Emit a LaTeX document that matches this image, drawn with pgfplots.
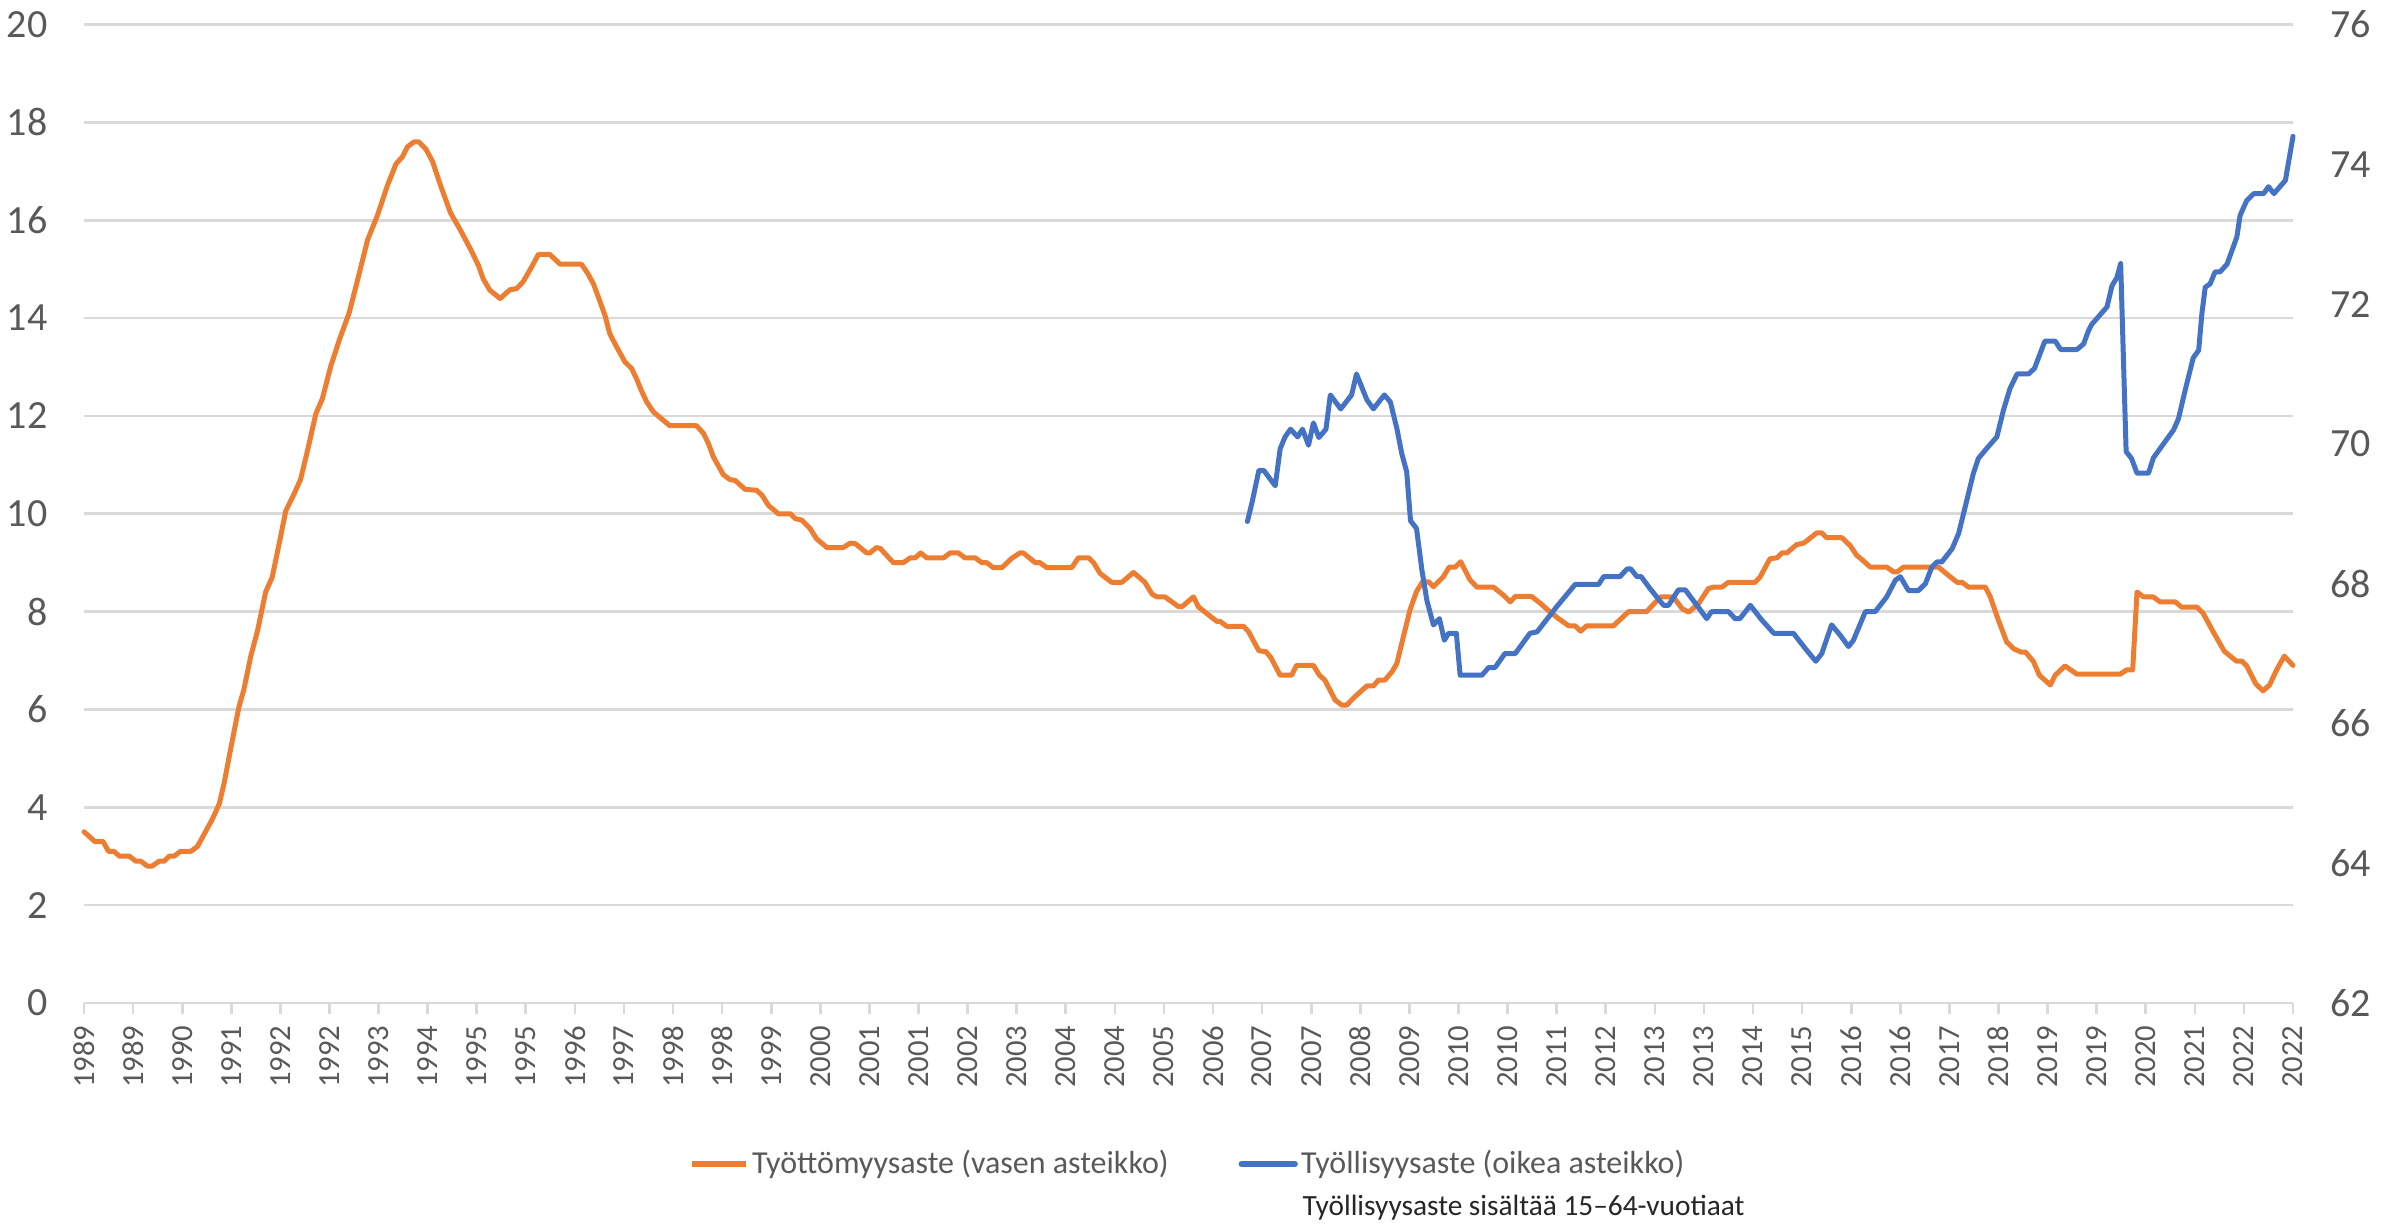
\documentclass[border=0pt]{standalone}
\usepackage{pgfplots}
\pgfplotsset{compat=1.18}
\usepackage{fontspec}
\setmainfont{Carlito}
\definecolor{orangeS}{HTML}{ED7D31}
\definecolor{blueS}{HTML}{4472C4}
\definecolor{gridc}{HTML}{D9D9D9}
\definecolor{tickc}{HTML}{595959}
\definecolor{notec}{HTML}{262626}

\pgfplotstableread{
idx val
0 3.5
2 3.3
3.5 3.3
4.5 3.1
5.5 3.1
6.5 3.0
8.3 3.0
9.5 2.9
10.4 2.9
11.6 2.8
12.5 2.8
13.8 2.9
14.7 2.9
15.6 3.0
16.5 3.0
17.7 3.1
19.6 3.1
20.8 3.2
23.5 3.75
24.8 4.07
25.7 4.5
26.9 5.2
28.4 6.05
29.3 6.4
30.6 7.1
31.8 7.6
33.3 8.4
34.5 8.7
35.8 9.4
37 10.06
38.5 10.4
39.7 10.7
41 11.3
42.5 12.04
43.7 12.35
45.2 13.0
46.8 13.55
48.6 14.1
50.1 14.75
52 15.6
53.8 16.1
55.6 16.7
57.2 17.15
58.4 17.3
59.3 17.5
60.5 17.6
61.4 17.6
62.7 17.45
63.9 17.2
65.4 16.7
67.2 16.15
69 15.8
70.9 15.4
72.3 15.08
73.2 14.8
74.4 14.57
76.3 14.4
78.1 14.58
79.3 14.6
80.5 14.74
82.1 15.05
83.3 15.3
85.4 15.3
87.3 15.1
91.2 15.1
92.2 14.94
93.4 14.7
94.3 14.43
95.5 14.06
96.4 13.68
97.7 13.4
99.2 13.1
100.4 12.97
101.3 12.76
102.3 12.49
103.2 12.28
104.4 12.08
105.9 11.94
107.4 11.8
112.3 11.8
113.6 11.64
114.5 11.43
115.4 11.16
117.2 10.8
118.4 10.7
119.4 10.68
121.2 10.5
123.3 10.48
124.3 10.38
125.5 10.17
127.3 10.0
129.5 10.0
130.4 9.9
131.6 9.87
133.1 9.7
134.3 9.49
136.2 9.31
139.2 9.31
140.5 9.4
141.4 9.39
143.5 9.2
144.1 9.2
145.3 9.31
146 9.29
148.4 9.0
150.2 9.0
151.5 9.1
152.4 9.1
153.4 9.2
154.5 9.1
157.6 9.1
158.8 9.2
160.3 9.2
161.5 9.1
163.4 9.1
164.6 9.0
165.5 9.0
166.7 8.9
168.3 8.9
170.1 9.09
171.6 9.2
172.2 9.2
174.4 9.0
175.3 9.0
176.5 8.9
181.1 8.9
182.3 9.1
184.2 9.1
185.1 9.0
186.3 8.78
188.4 8.6
190.3 8.6
192.4 8.8
194.5 8.6
195.8 8.36
196.7 8.3
198.2 8.3
200.7 8.1
201.3 8.1
203.4 8.3
204.3 8.1
206.2 7.93
207.7 7.8
208.3 7.8
209.5 7.7
212.6 7.7
213.5 7.59
215.4 7.2
216.7 7.18
217.6 7.06
219.3 6.7
221.4 6.7
222.3 6.9
225.4 6.9
226.5 6.7
227.5 6.6
229.4 6.19
230.6 6.09
231.5 6.09
233.0 6.26
235.2 6.48
236.4 6.48
237.3 6.6
238.5 6.6
239.8 6.77
240.7 6.94
241.9 7.49
243.1 8.03
244.3 8.41
245.4 8.61
246.5 8.61
247.4 8.51
249.2 8.71
250.3 8.91
251.4 8.91
252.4 9.02
254.1 8.65
255.4 8.5
258.4 8.5
260.2 8.34
261.5 8.2
262.4 8.31
265.4 8.31
267 8.17
268.5 8.02
270.3 7.86
272.2 7.71
273.4 7.71
274.4 7.6
275.5 7.71
280.4 7.71
283.2 8.0
286.5 8.0
289 8.3
291.4 8.3
293 8.06
294.2 7.99
296 8.16
297.8 8.47
298.7 8.5
300.3 8.5
301.5 8.6
306.4 8.6
307.3 8.71
309.1 9.08
310.4 9.1
311.3 9.2
312.2 9.2
314 9.37
315.3 9.4
317.7 9.61
318.6 9.61
319.5 9.51
322.3 9.51
323.8 9.35
325 9.15
326 9.06
327.5 8.91
330.5 8.91
331.8 8.81
332.4 8.81
333.6 8.91
340 8.91
341.5 8.77
343.4 8.6
344.3 8.6
345.5 8.5
348.6 8.5
349.5 8.3
351 7.82
352.5 7.38
353.8 7.24
355.2 7.17
356 7.17
357.4 6.98
358.5 6.7
360.5 6.5
361.4 6.7
363.2 6.89
365.4 6.72
373.3 6.72
374.5 6.81
375.6 6.81
376.4 8.4
377.6 8.3
379.4 8.3
380.6 8.2
383.4 8.2
384.6 8.09
387.4 8.09
388.5 7.97
390.4 7.58
392.4 7.19
394.6 6.99
395.6 6.99
396.5 6.89
398.2 6.52
399.5 6.38
400.7 6.5
402 6.81
403.4 7.09
405 6.9
}\unemp

\pgfplotstableread{
idx val
213.3 68.89
214.2 69.18
215.4 69.62
216.3 69.62
218.4 69.4
219.3 69.93
220.2 70.1
221.2 70.21
222.5 70.1
223.4 70.21
224.5 69.98
225.4 70.3
226.4 70.09
227.7 70.21
228.5 70.7
230.4 70.5
232.4 70.7
233.3 71.0
235.2 70.63
236.4 70.5
238.4 70.7
239.5 70.6
240.7 70.22
241.6 69.86
242.5 69.6
243.2 68.9
244.3 68.79
245.3 68.19
246.2 67.76
247.4 67.41
248.5 67.5
249.4 67.19
250.2 67.29
251.6 67.29
252.3 66.69
256.3 66.69
257.5 66.8
258.7 66.8
260.5 67.0
262.4 67.0
265.1 67.29
266.4 67.31
270 67.67
273.4 67.99
277.7 67.99
278.6 68.1
281.6 68.1
282.9 68.21
283.6 68.21
284.7 68.1
285.5 68.1
287.1 67.93
289.6 67.69
290.5 67.69
292.3 67.91
293.6 67.91
295.7 67.69
297.5 67.5
298.4 67.6
301.5 67.6
302.7 67.5
303.6 67.5
305.5 67.69
307.6 67.48
309.8 67.29
313.4 67.29
315.6 67.07
317.5 66.89
318.6 67.0
320.4 67.41
322 67.26
323.5 67.1
324.4 67.19
326.6 67.6
328.4 67.6
330.5 67.81
332.1 68.05
333 68.1
334.5 67.9
336.3 67.9
337.6 68.0
338.8 68.24
339.7 68.31
340.6 68.31
342.5 68.5
343.7 68.72
344.9 69.1
346.4 69.58
347.3 69.79
348.9 69.94
350.7 70.1
351.9 70.48
353.1 70.79
354.4 71.0
356.5 71.0
357.6 71.08
359.5 71.47
361.4 71.47
362.4 71.35
365.4 71.35
366.6 71.43
367.5 71.62
368.1 71.71
370.9 71.96
371.8 72.26
372.7 72.38
373.4 72.58
374.4 69.89
375.4 69.79
376.4 69.58
378.5 69.58
379.4 69.8
383.1 70.2
384 70.36
385.2 70.76
386.7 71.23
387.7 71.34
388.3 71.87
388.9 72.24
389.8 72.29
390.7 72.46
391.6 72.46
392.9 72.57
394.7 72.96
395.3 73.27
396.5 73.48
397.8 73.58
399.6 73.58
400.5 73.68
401.5 73.58
403.6 73.77
405 74.4
}\employ

\pgfplotsset{
  common/.style={
    at={(25.2pt,66.9pt)}, anchor=south west,
    scale only axis, width=662.7pt, height=293.55pt,
    xmin=0, xmax=405, clip=false,
    /pgf/number format/assume math mode=true,
    tick label style={text=tickc},
  }
}

\begin{document}
\begin{tikzpicture}
\useasboundingbox (0,0) rectangle (722.1pt,367.8pt);
\begin{axis}[
  common,
  ymin=0, ymax=20, ytick={0,2,...,20},
  axis x line*=bottom, axis y line*=left,
  x axis line style={gridc, line width=0.8pt, -},
  y axis line style={draw=none},
  ymajorgrids, grid style={gridc, line width=0.8pt},
  tick align=outside, major tick length=3.3pt,
  xtick={0,9,...,405},
  xticklabels={1989,1989,1990,1991,1992,1992,1993,1994,1995,1995,1996,1997,1998,1998,1999,2000,2001,2001,2002,2003,2004,2004,2005,2006,2007,2007,2008,2009,2010,2010,2011,2012,2013,2013,2014,2015,2016,2016,2017,2018,2019,2019,2020,2021,2022,2022},
  xtick style={gridc, line width=0.8pt},
  ytick style={draw=none},
  xticklabel style={rotate=90, anchor=east, inner sep=0pt, font=\fontsize{9.2}{10}\selectfont},
  xticklabel shift=3.3pt,
  yticklabel style={inner sep=0pt, font=\fontsize{12}{12}\selectfont},
  yticklabel shift=7.5pt,
]
\addplot[orangeS, line width=1.5pt, line join=round, line cap=round] table[x=idx, y=val] {\unemp};
\end{axis}
\begin{axis}[
  common,
  ymin=62, ymax=76, ytick={62,64,...,76},
  hide x axis,
  axis y line*=right,
  y axis line style={draw=none},
  ytick style={draw=none},
  yticklabel style={inner sep=0pt, font=\fontsize{12}{12}\selectfont},
  yticklabel shift=11pt,
  legend columns=2,
  legend style={at={(0.5,-0.1645)}, anchor=center, draw=none, fill=none,
    font=\fontsize{9.6}{10}\selectfont, text=tickc,
    nodes={inner sep=1pt},
    /tikz/every even column/.append style={column sep=20pt}},
  legend image code/.code={\draw[#1, line width=1.8pt] (0pt,0pt) -- (16pt,0pt);},
]
\addlegendimage{orangeS}
\addlegendentry{Työttömyysaste (vasen asteikko)}
\addplot[blueS, line width=1.5pt, line join=round, line cap=round] table[x=idx, y=val] {\employ};
\addlegendentry{Työllisyysaste (oikea asteikko)}
\end{axis}
\node[anchor=west, inner sep=0pt, text=notec, font=\fontsize{8.8}{10}\selectfont] at (390.6pt,5.6pt) {Työllisyysaste sisältää 15–64-vuotiaat};
\end{tikzpicture}
\end{document}
